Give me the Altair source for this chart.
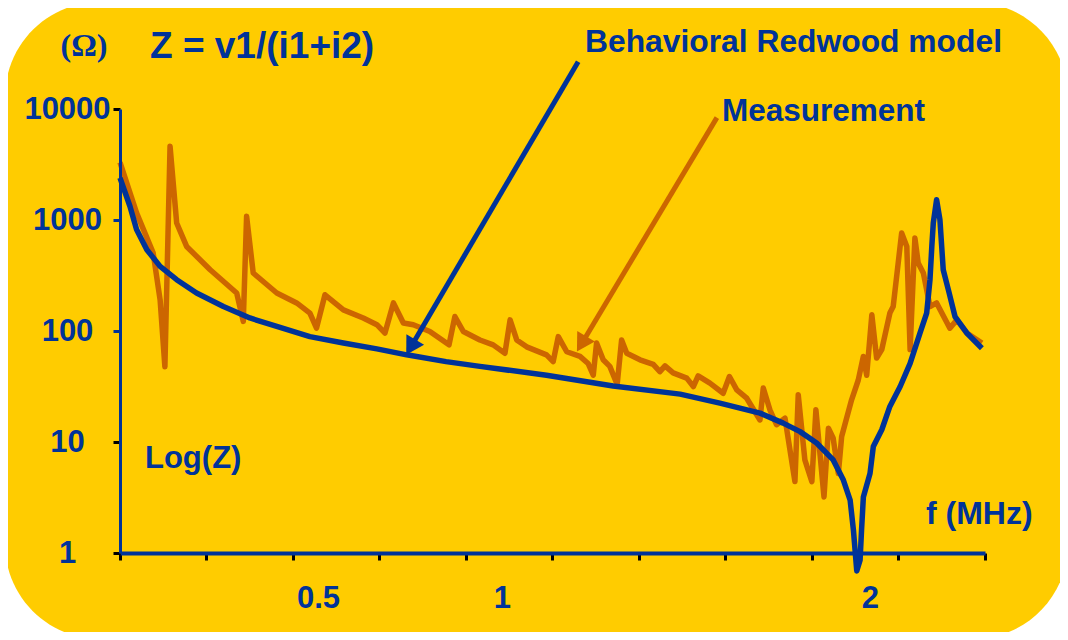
import altair as alt
import pandas as pd

BLUE = "#003399"
ORANGE = "#CC6600"
YELLOW = "#FFCC00"
FONT = "Liberation Sans"

# Behavioral Redwood model: frequency (MHz) and impedance (Ohm)
model_f = [-0.038, -0.011, 0.007, 0.035, 0.071, 0.116, 0.170, 0.243, 0.315, 0.388,
           0.478, 0.569, 0.660, 0.741, 0.848, 0.940, 1.121, 1.302, 1.484, 1.592,
           1.701, 1.764, 1.810, 1.855, 1.900, 1.927, 1.946, 1.955, 1.964, 1.973,
           1.977, 1.982, 2.000, 2.009, 2.032, 2.054, 2.082, 2.109, 2.136, 2.154,
           2.163, 2.168, 2.172, 2.181, 2.190, 2.199, 2.213, 2.231, 2.263, 2.304]
model_z = [2400, 1330, 820, 540, 382, 290, 220, 166, 131, 110,
           89, 78, 69, 61, 53, 48, 40, 32, 27, 22.4,
           18.2, 14.8, 12.4, 9.8, 6.9, 4.6, 3.0, 1.6, 0.69, 0.86,
           1.6, 3.2, 5.2, 9.1, 12.9, 20.9, 31.6, 51, 96, 145,
           290, 578, 940, 1525, 1007, 356, 235, 135, 96, 70]

# Measurement
meas_f = [-0.038, 0.007, 0.052, 0.071, 0.084, 0.098, 0.116, 0.143, 0.207, 0.279,
          0.297, 0.306, 0.324, 0.388, 0.442, 0.478, 0.496, 0.519, 0.569, 0.623,
          0.660, 0.682, 0.705, 0.732, 0.759, 0.804, 0.856, 0.872, 0.895, 0.940,
          0.976, 1.008, 1.022, 1.040, 1.067, 1.121, 1.139, 1.153, 1.176, 1.212,
          1.234, 1.248, 1.257, 1.275, 1.293, 1.313, 1.325, 1.339, 1.375, 1.411,
          1.429, 1.443, 1.465, 1.502, 1.520, 1.533, 1.565, 1.601, 1.618, 1.638,
          1.665, 1.701, 1.710, 1.728, 1.746, 1.769, 1.796, 1.805, 1.823, 1.842,
          1.853, 1.875, 1.887, 1.900, 1.914, 1.923, 1.950, 1.968, 1.982, 1.991,
          2.005, 2.018, 2.032, 2.054, 2.063, 2.086, 2.100, 2.109, 2.122, 2.131,
          2.145, 2.163, 2.181, 2.217, 2.236, 2.263, 2.304]
meas_z = [3300, 1160, 507, 191, 47.6, 4610, 940, 578, 356, 220,
          122, 1080, 333, 220, 179, 145, 106, 212, 155, 131,
          114, 96, 179, 118, 114, 99, 75, 135, 99, 83,
          75, 63, 126, 83, 72, 61, 53, 89, 65, 59,
          51, 40, 78, 55, 48, 33, 83, 63, 55, 50,
          43, 48.5, 42, 37.6, 31.6, 39.4, 33.9, 27.5, 38.9, 29.5,
          24.8, 15.8, 30.6, 19.5, 14.3, 16.4, 4.4, 26.6, 6.9, 4.4,
          19.5, 3.2, 13.3, 10.8, 5.2, 11.2, 24, 36, 59, 40,
          140, 57, 68, 145, 166, 763, 578, 68, 688, 409,
          333, 166, 179, 106, 126, 96, 78]

x_ticks = [-0.038, 0.197, 0.432, 0.667, 0.902, 1.137, 1.372, 1.607, 1.842, 2.077, 2.3125]
x_labels = [0.5, 1, 2]
y_ticks = [1, 10, 100, 1000, 10000]

arrow_names = ["model", "measurement"]
arrow_f_start = [1.207, 1.584]
arrow_z_start = [26700, 8360]
arrow_f_end = [0.752, 1.216]
arrow_z_end = [71.5, 76.5]

texts = ["(\u03a9)", "Z = v1/(i1+i2)", "Behavioral Redwood model", "Measurement", "Log(Z)", "f (MHz)"]

model_df = pd.DataFrame({"f": model_f, "z": model_z})
meas_df = pd.DataFrame({"f": meas_f, "z": meas_z})
arrow_df = pd.DataFrame({"name": arrow_names, "f": arrow_f_start, "z": arrow_z_start,
                         "f2": arrow_f_end, "z2": arrow_z_end})
head_df = pd.DataFrame({"name": arrow_names, "f": arrow_f_end, "z": arrow_z_end,
                        "angle": [210.5, 210.9]})
one = pd.DataFrame({"a": [0]})

label_test = "indexof([0.5, 1, 2], datum.value) >= 0"
xaxis = alt.Axis(
    values=x_ticks + x_labels,
    labelExpr=f"{label_test} ? format(datum.value, '~g') : ''",
    tickOpacity={"condition": {"test": label_test, "value": 0}, "value": 1},
    title=None, grid=False, labelOverlap=False, labelFlush=False, zindex=1,
    domainColor=BLUE, domainWidth=4, tickColor="black", tickWidth=3, tickSize=7,
    labelFont=FONT, labelFontSize=31, labelFontWeight="bold", labelColor=BLUE,
    labelPadding=23,
)
yaxis = alt.Axis(
    values=y_ticks, format="d", title=None, grid=False, labelOverlap=False,
    labelFlush=False, zindex=1, labelAlign="center",
    domainColor=BLUE, domainWidth=3, tickWidth=3, tickSize=7,
    tickColor={"condition": {"test": "datum.value == 100 || datum.value == 1000",
                             "value": BLUE}, "value": "black"},
    labelFont=FONT, labelFontSize=31, labelFontWeight="bold", labelColor=BLUE,
    labelPadding=46,
)
xscale = alt.Scale(domain=[-0.038, 2.3125], nice=False, zero=False)
yscale = alt.Scale(type="log", domain=[1, 10000], nice=False)

xenc = alt.X("f:Q", scale=xscale, axis=xaxis)
yenc = alt.Y("z:Q", scale=yscale, axis=yaxis)
cenc = alt.Color("name:N", scale=alt.Scale(domain=arrow_names, range=[BLUE, ORANGE]), legend=None)

bg = alt.Chart(one).mark_rect(color=YELLOW, cornerRadius=95).encode(
    x=alt.value(-115), x2=alt.value(948), y=alt.value(-107), y2=alt.value(530)
)
meas = alt.Chart(meas_df).mark_line(color=ORANGE, strokeWidth=5.5, strokeJoin="round").encode(x=xenc, y=yenc)
model = alt.Chart(model_df).mark_line(color=BLUE, strokeWidth=5.5, strokeJoin="round").encode(x=xenc, y=yenc)
arrows = alt.Chart(arrow_df).mark_rule(strokeWidth=5).encode(
    x=xenc, y=yenc, x2="f2:Q", y2="z2:Q", color=cenc
)
heads = alt.Chart(head_df).mark_point(shape="triangle-up", filled=True, size=420, opacity=1).encode(
    x=xenc, y=yenc, color=cenc, angle=alt.Angle("angle:Q", scale=None)
)


def label(s, x, y, size, font=FONT, weight="bold", align="left"):
    return alt.Chart(one).mark_text(
        text=s, font=font, fontSize=size, fontWeight=weight, color=BLUE,
        align=align, baseline="alphabetic"
    ).encode(x=alt.value(x), y=alt.value(y))


text_layers = [
    label(texts[0], -36, -53, 32, font="Liberation Serif", weight="bold", align="center"),
    label(texts[1], 30, -51, 37),
    label(texts[2], 465, -57, 31.8),
    label(texts[3], 602, 12, 31.5),
    label(texts[4], 25, 359, 31),
    label(texts[5], 806, 415, 32),
]

chart = alt.layer(bg, meas, model, arrows, heads, *text_layers).properties(
    width=865, height=444,
    autosize=alt.AutoSizeParams(type="none"),
    padding={"left": 112, "top": 101, "right": 75, "bottom": 79},
    background="white",
).configure_view(stroke="transparent")

chart.save("out.html", embed_options={"renderer": "svg", "actions": False})
